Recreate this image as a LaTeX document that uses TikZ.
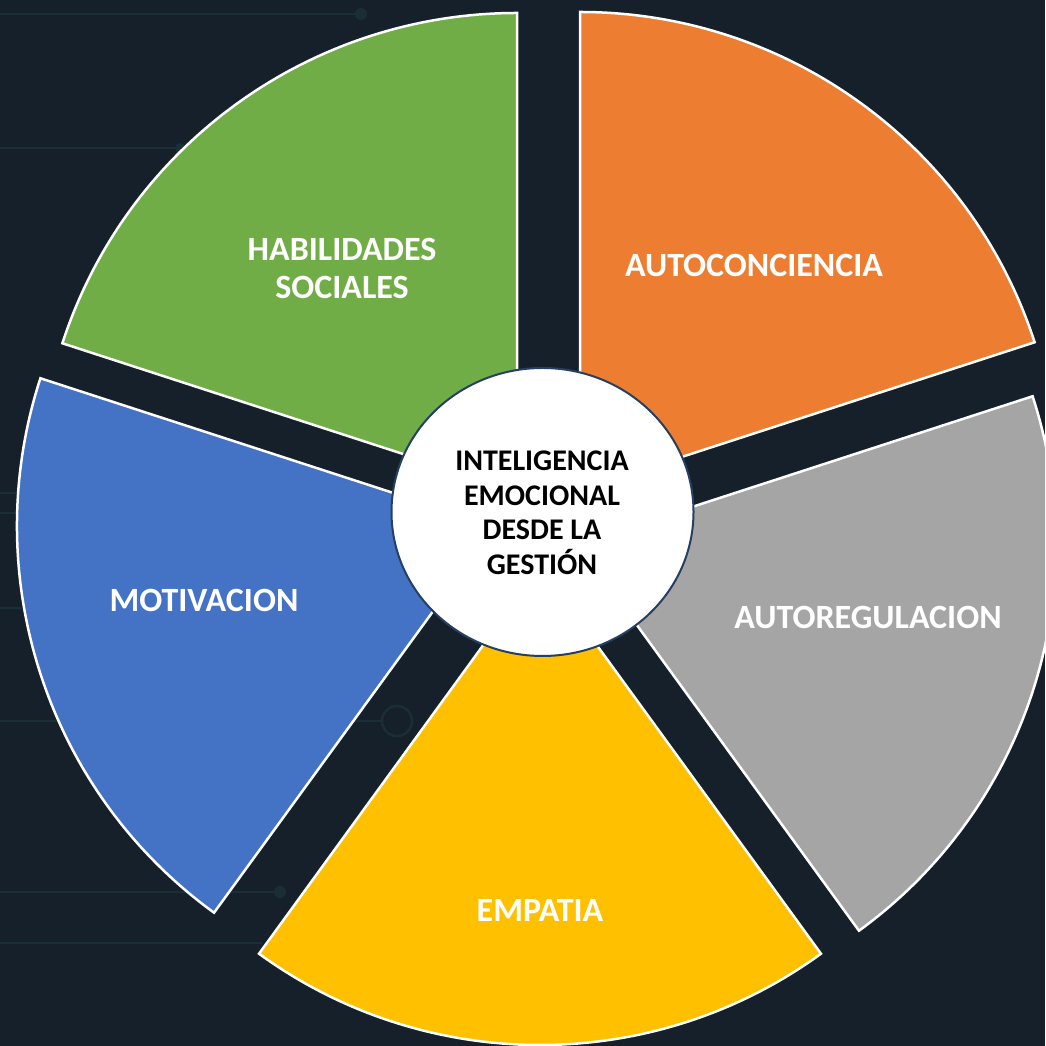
\documentclass[tikz,border=0pt]{standalone}
\usepackage{fontspec}
\usetikzlibrary{shapes.geometric}
\newfontfamily\labfont{Carlito}
\definecolor{bgc}{RGB}{22,32,42}
\definecolor{linec}{RGB}{26,46,54}
\definecolor{cgreen}{RGB}{112,173,71}
\definecolor{corange}{RGB}{237,125,49}
\definecolor{cgray}{RGB}{165,165,165}
\definecolor{cyellow}{RGB}{255,192,0}
\definecolor{cblue}{RGB}{68,114,196}
\definecolor{rimc}{RGB}{37,64,97}
\tikzset{
  sector/.style={draw=white, line width=2.5pt, line join=miter},
  bgline/.style={draw=linec, line width=2.5pt},
  outlabel/.style={text=white, font=\labfont\bfseries\fontsize{34}{38}\selectfont, align=center, inner sep=0pt},
  hublabel/.style={text=black, font=\labfont\bfseries\fontsize{30}{34.5}\selectfont, align=center, inner sep=0pt}
}
\begin{document}
\begin{tikzpicture}[x=1pt,y=1pt]
\path[use as bounding box] (0,0) rectangle (1045,1046);
\clip (0,0) rectangle (1045,1046);
\fill[bgc] (0,0) rectangle (1045,1046);
% faint background circuit lines
\draw[bgline] (0,1032) -- (355,1032);
\fill[linec] (361,1032) circle[radius=6];
\draw[bgline] (0,898) -- (180,898);
\fill[linec] (180,898) circle[radius=5];
\draw[bgline] (0,553) -- (30,553);
\draw[bgline] (0,533) -- (30,533);
\draw[bgline] (0,438) -- (30,438);
\draw[bgline] (0,325) -- (382,325);
\draw[bgline] (397,325) circle[radius=15];
\draw[bgline] (0,154) -- (280,154);
\fill[linec] (280,154) circle[radius=6];
\draw[bgline] (0,103) -- (262,103);
% sectors
\draw[sector, fill=cgreen] (517,555) -- ++(90:478) arc[start angle=90, end angle=162, radius=478] -- cycle;
\draw[sector, fill=corange] (580,556) -- ++(18:478) arc[start angle=18, end angle=90, radius=478] -- cycle;
\draw[sector, fill=cgray] (578,502) -- ++(-54:478) arc[start angle=-54, end angle=18, radius=478] -- cycle;
\draw[sector, fill=cyellow] (540,479) -- ++(-126:478) arc[start angle=-126, end angle=-54, radius=478] -- cycle;
\draw[sector, fill=cblue] (495,520) -- ++(162:478) arc[start angle=162, end angle=234, radius=478] -- cycle;
% hub
\node[draw=rimc, line width=2pt, fill=white, ellipse, minimum width=302pt, minimum height=288pt, inner sep=0pt] (hub) at (542.5,534) {};
\node[hublabel] (hubtext) at (542,533) {INTELIGENCIA\\EMOCIONAL\\DESDE LA\\GESTIÓN};
% labels
\node[outlabel] (hab) at (342,778) {HABILIDADES\\SOCIALES};
\node[outlabel] (autoc) at (754,781) {AUTOCONCIENCIA};
\node[outlabel] (autor) at (868,429) {AUTOREGULACION};
\node[outlabel] (moti) at (204,446) {MOTIVACION};
\node[outlabel] (emp) at (540,136) {EMPATIA};
\end{tikzpicture}
\end{document}
